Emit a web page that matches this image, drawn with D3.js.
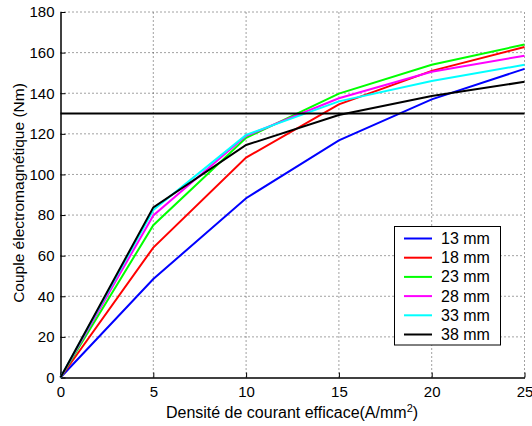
<!DOCTYPE html>
<html><head><meta charset="utf-8">
<script src="https://cdn.jsdelivr.net/npm/d3@7"></script>
<style>body{margin:0;background:#fff;} text{font-family:"Liberation Sans",Arial,sans-serif;}</style>
</head><body>
<svg id="c" width="532" height="426"></svg>
<script>
const xValues = [0, 5, 10, 15, 20, 25];
const seriesNames = ["13 mm", "18 mm", "23 mm", "28 mm", "33 mm", "38 mm"];
const seriesColors = ["#0000ff", "#ff0000", "#00ff00", "#ff00ff", "#00ffff", "#000000"];
const s13 = [0, 48.5, 88.3, 116.8, 137, 152];
const s18 = [0, 64, 108.3, 134.5, 151, 162.8];
const s23 = [0, 75, 118, 139.8, 154, 164];
const s28 = [0, 79.8, 119, 137.5, 150.6, 158.5];
const s33 = [0, 82.5, 119.5, 136, 146, 154];
const s38 = [0, 83.8, 114.5, 129.3, 138.6, 145.6];
const seriesValues = [s13, s18, s23, s28, s33, s38];
const limitValue = 130;
const xTicks = [0, 5, 10, 15, 20, 25];
const yTicks = [0, 20, 40, 60, 80, 100, 120, 140, 160, 180];

const svg = d3.select("#c");
const L = 60.5, R = 524.5, T = 12, B = 377.5;
const x = d3.scaleLinear().domain([0, 25]).range([L, R]);
const y = d3.scaleLinear().domain([0, 180]).range([B, T]);

// grid
const g = svg.append("g");
g.selectAll(".gx").data(xTicks.slice(1)).enter().append("line")
  .attr("x1", d => x(d)).attr("x2", d => x(d)).attr("y1", B).attr("y2", T)
  .attr("stroke", "#444").attr("stroke-width", 1).attr("stroke-dasharray", "1,3");
g.selectAll(".gy").data(yTicks.slice(1)).enter().append("line")
  .attr("x1", L).attr("x2", R).attr("y1", d => y(d)).attr("y2", d => y(d))
  .attr("stroke", "#444").attr("stroke-width", 1).attr("stroke-dasharray", "1,3");

// axes
const xa = svg.append("g").attr("transform", `translate(0,${B})`)
  .call(d3.axisBottom(x).tickValues(xTicks).tickSizeInner(-5).tickSizeOuter(0).tickPadding(9));
const ya = svg.append("g").attr("transform", `translate(${L},0)`)
  .call(d3.axisLeft(y).tickValues(yTicks).tickSizeInner(-5).tickSizeOuter(0).tickPadding(6));
[xa, ya].forEach(a => {
  a.selectAll("path").attr("stroke", "#000").attr("stroke-width", 1.5);
  a.selectAll("line").attr("stroke", "#000");
  a.selectAll("text").attr("font-size", 15).attr("fill", "#000")
    .attr("font-family", "'Liberation Sans',Arial,sans-serif");
});

// lines
const line = d3.line().x((d, i) => x(xValues[i])).y(d => y(d));
seriesValues.forEach((vals, k) => {
  svg.append("path").datum(vals).attr("d", line)
    .attr("fill", "none").attr("stroke", seriesColors[k]).attr("stroke-width", 2)
    .attr("stroke-linejoin", "miter");
});
svg.append("line").attr("x1", x(0)).attr("x2", x(25)).attr("y1", y(limitValue)).attr("y2", y(limitValue))
  .attr("stroke", "#000").attr("stroke-width", 2);

// labels
svg.append("text").attr("transform", `translate(24,193) rotate(-90)`)
  .attr("text-anchor", "middle").attr("font-size", 15.5).text("Couple électromagnétique (Nm)");
const xl = svg.append("text").attr("x", 292).attr("y", 418).attr("text-anchor", "middle").attr("font-size", 16);
xl.append("tspan").text("Densité de courant efficace(A/mm");
xl.append("tspan").attr("font-size", 11).attr("dy", -6).text("2");
xl.append("tspan").attr("dy", 6).text(")");

// legend
const lg = svg.append("g");
lg.append("rect").attr("x", 394.5).attr("y", 226.5).attr("width", 106).attr("height", 118.5)
  .attr("fill", "#fff").attr("stroke", "#000").attr("stroke-width", 1);
seriesNames.forEach((n, k) => {
  const yy = 238.5 + k * 19.2;
  lg.append("line").attr("x1", 404).attr("x2", 432).attr("y1", yy).attr("y2", yy)
    .attr("stroke", seriesColors[k]).attr("stroke-width", 2);
  lg.append("text").attr("x", 441).attr("y", yy + 5.5).attr("font-size", 16).text(n);
});
</script>
</body></html>
